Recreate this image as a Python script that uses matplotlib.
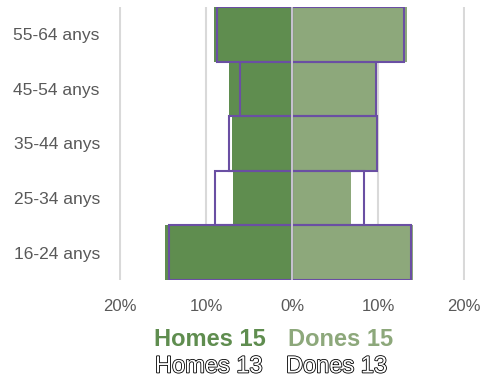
import matplotlib
matplotlib.use("Agg")
import matplotlib.pyplot as plt
import matplotlib.patheffects as pe
from matplotlib.ticker import FuncFormatter

plt.rcParams["font.family"] = ["Liberation Sans", "DejaVu Sans"]

groups = ["16-24 anys", "25-34 anys", "35-44 anys", "45-54 anys", "55-64 anys"]
homes_15 = [14.8, 6.9, 7.0, 7.3, 9.1]
dones_15 = [14.0, 6.8, 9.8, 9.8, 13.3]
homes_13 = [14.3, 9.0, 7.4, 6.1, 8.7]
dones_13 = [13.8, 8.3, 9.9, 9.8, 13.0]

dark_green = "#5f8d4f"
light_green = "#8da87b"
purple = "#6a4fa3"
grey_text = "#595959"

fig = plt.figure(figsize=(4.84, 3.83), dpi=100)
ax = fig.add_axes([0.2465, 0.269, 0.7142, 0.713])

y = range(len(groups))
ax.barh(y, [-v for v in homes_15], height=1.0, color=dark_green, zorder=2)
ax.barh(y, dones_15, height=1.0, color=light_green, zorder=2)
ax.barh(y, [-v for v in homes_13], height=1.0, fill=False,
        edgecolor=purple, linewidth=1.5, zorder=3)
ax.barh(y, dones_13, height=1.0, fill=False,
        edgecolor=purple, linewidth=1.5, zorder=3)
ax.axvline(0, color="#d9d9d9", linewidth=1.2, zorder=4)

ax.set_xlim(-20.1, 20.1)
ax.set_ylim(-0.5, 4.5)
ax.set_xticks([-20, -10, 0, 10, 20])
ax.xaxis.set_major_formatter(FuncFormatter(lambda v, p: f"{abs(v):.0f}%"))
ax.set_yticks(list(y))
ax.set_yticklabels(groups)
ax.tick_params(length=0, labelsize=12, labelcolor=grey_text)
ax.tick_params(axis="y", labelsize=12.5, pad=14)
ax.tick_params(axis="x", pad=14)
ax.grid(axis="x", color="#d9d9d9", linewidth=1.5, zorder=0)
ax.set_axisbelow(True)
for s in ax.spines.values():
    s.set_visible(False)

W, H = 484, 383
fig.text(154 / W, 1 - 339 / H, "Homes 15", fontsize=17, fontweight="bold",
         color=dark_green, ha="left", va="center")
fig.text(288 / W, 1 - 339 / H, "Dones 15", fontsize=17, fontweight="bold",
         color=light_green, ha="left", va="center")
outline = [pe.Stroke(linewidth=1.2, foreground="black"), pe.Normal()]
fig.text(155 / W, 1 - 366.5 / H, "Homes 13", fontsize=17, color="white",
         ha="left", va="center", path_effects=outline)
fig.text(286 / W, 1 - 366.5 / H, "Dones 13", fontsize=17, color="white",
         ha="left", va="center", path_effects=outline)

fig.savefig("out.png", dpi=100)
plt.close(fig)
